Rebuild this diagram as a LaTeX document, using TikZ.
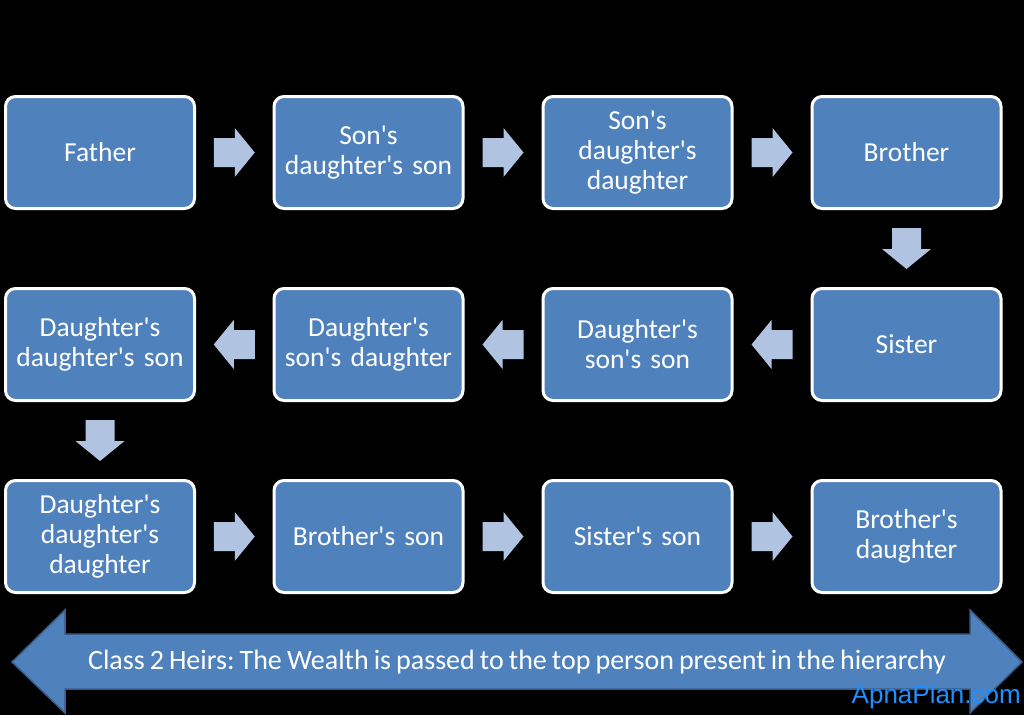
\documentclass[tikz,border=0pt]{standalone}
\usepackage{fontspec}
\setmainfont{Carlito}[Ligatures=TeXOff, WordSpace=0.8]
\newfontfamily\wmfont{Liberation Sans}
\frenchspacing
\definecolor{boxblue}{HTML}{4F81BD}
\definecolor{lightarr}{HTML}{B0C3E0}
\definecolor{bigedge}{HTML}{385D8A}
\definecolor{wmblue}{HTML}{1E90FF}
\begin{document}
\begin{tikzpicture}[x=1pt,y=-1pt,
  heir/.style={draw=white, line width=3pt, fill=boxblue, rounded corners=10pt,
    minimum width=189pt, minimum height=112pt, inner sep=2pt, text=white,
    align=center, font=\fontsize{27.5}{30}\selectfont, text width=185pt},
  blockarrow/.pic={\fill[lightarr] (-20.5,-14.5) -- (0.5,-14.5) -- (0.5,-24.5) -- (20.5,0)
     -- (0.5,24.5) -- (0.5,14.5) -- (-20.5,14.5) -- cycle;}
]
\fill[black] (0,0) rectangle (1024,715);
\useasboundingbox (0,0) rectangle (1024,715);

% row 1
\node[heir] (b1) at (100,152.5) {Father};
\node[heir] (b2) at (368.5,152.5) {Son's\\daughter's son};
\node[heir] (b3) at (637.5,152.5) {Son's\\daughter's\\daughter};
\node[heir] (b4) at (906.5,152.5) {Brother};
% row 2
\node[heir] (b5) at (906.5,344.5) {Sister};
\node[heir] (b6) at (637.5,344.5) {Daughter's\\son's son};
\node[heir] (b7) at (368.5,344.5) {Daughter's\\son's daughter};
\node[heir] (b8) at (100,344.5) {Daughter's\\daughter's son};
% row 3
\node[heir] (b9) at (100,536.5) {Daughter's\\daughter's\\daughter};
\node[heir] (b10) at (368.5,536.5) {Brother's son};
\node[heir] (b11) at (637.5,536.5) {Sister's son};
\node[heir] (b12) at (906.5,536.5) {Brother's\\daughter};

% connectors (block arrows)
\path (b1.east) -- (b2.west) coordinate[midway] (a1);
\path (b2.east) -- (b3.west) coordinate[midway] (a2);
\path (b3.east) -- (b4.west) coordinate[midway] (a3);
\path (b4.south) -- (b5.north) coordinate[midway] (a4);
\path (b5.west) -- (b6.east) coordinate[midway] (a5);
\path (b6.west) -- (b7.east) coordinate[midway] (a6);
\path (b7.west) -- (b8.east) coordinate[midway] (a7);
\path (b8.south) -- (b9.north) coordinate[midway] (a8);
\path (b9.east) -- (b10.west) coordinate[midway] (a9);
\path (b10.east) -- (b11.west) coordinate[midway] (a10);
\path (b11.east) -- (b12.west) coordinate[midway] (a11);
\pic at (a1) {blockarrow};
\pic at (a2) {blockarrow};
\pic at (a3) {blockarrow};
\pic[rotate=-90] at (a4) {blockarrow};
\pic[rotate=180] at (a5) {blockarrow};
\pic[rotate=180] at (a6) {blockarrow};
\pic[rotate=180] at (a7) {blockarrow};
\pic[rotate=-90] at (a8) {blockarrow};
\pic at (a9) {blockarrow};
\pic at (a10) {blockarrow};
\pic at (a11) {blockarrow};

% big double arrow
\draw[fill=boxblue, draw=bigedge, line width=1.5pt, line join=miter]
  (12,662) -- (65,610) -- (65,634) -- (970,634) -- (970,610) -- (1022,662)
  -- (970,713) -- (970,689) -- (65,689) -- (65,713) -- cycle;
\node[text=white, font=\fontsize{28}{30}\selectfont, inner sep=0pt] (banner) at (517,662)
  {Class 2 Heirs: The Wealth is passed to the top person present in the hierarchy};

% watermark
\node[anchor=base east, text=wmblue, font=\wmfont\fontsize{26}{30}\selectfont, inner sep=0pt] (wm)
  at (1021,703) {ApnaPlan.com};
\end{tikzpicture}
\end{document}
